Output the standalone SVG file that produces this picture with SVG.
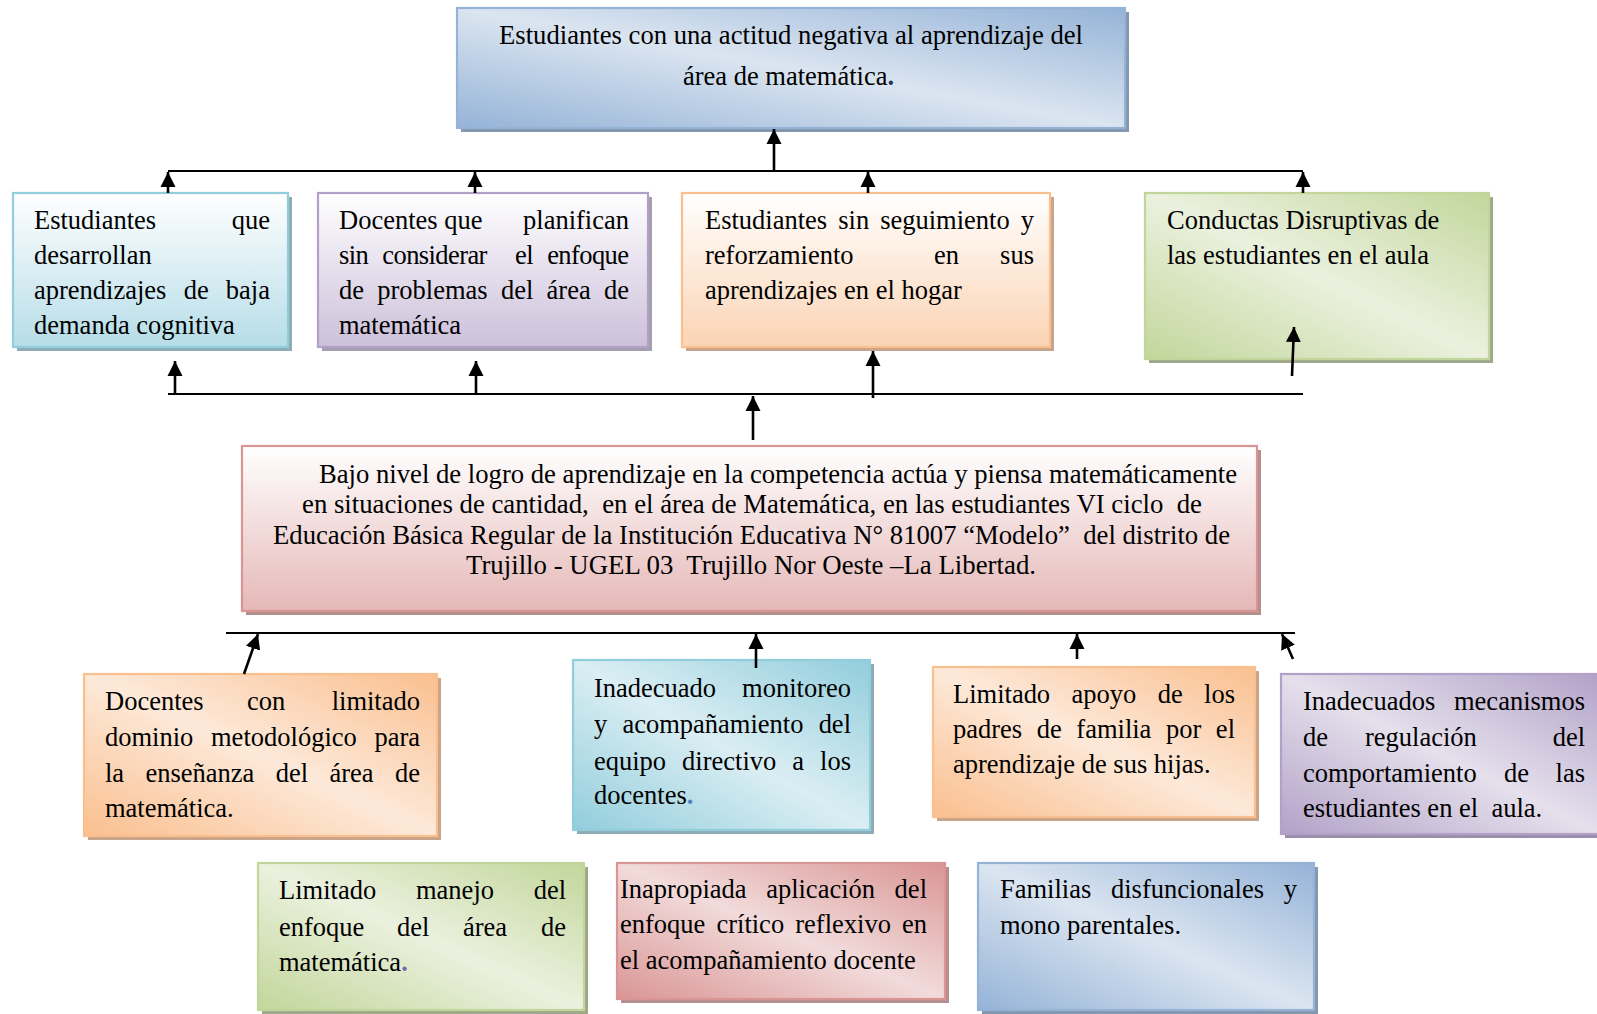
<svg xmlns="http://www.w3.org/2000/svg" width="1597" height="1014" viewBox="0 0 1597 1014">
<style>
.t{font-family:"Liberation Serif","Times New Roman",serif;font-size:26.5px;fill:#000;white-space:pre}
.e{text-anchor:end}
.ln{stroke:#000;stroke-width:2.2;fill:none}
.ar{stroke:#000;stroke-width:2.6;fill:none;marker-end:url(#ah)}
.bx{stroke-width:2.2}
</style>
<defs>
<marker id="ah" viewBox="0 0 10 10" markerWidth="15" markerHeight="16" refX="10" refY="5" orient="auto" markerUnits="userSpaceOnUse">
<path d="M0,0 L10,5 L0,10 z" fill="#000"/>
</marker>
<linearGradient id="gA" x1="0" y1="0" x2="0" y2="1"><stop offset="0" stop-color="#ffffff"/><stop offset="1" stop-color="#b6dde8"/></linearGradient>
<linearGradient id="gB" x1="0" y1="0" x2="0" y2="1"><stop offset="0" stop-color="#ffffff"/><stop offset="1" stop-color="#ccc0da"/></linearGradient>
<linearGradient id="gC" x1="0" y1="0" x2="0" y2="1"><stop offset="0" stop-color="#ffffff"/><stop offset="1" stop-color="#fbd4b4"/></linearGradient>
<linearGradient id="gR" x1="0" y1="0" x2="0" y2="1"><stop offset="0" stop-color="#ffffff"/><stop offset="1" stop-color="#e5b8b7"/></linearGradient>
<linearGradient id="dBlue" x1="1" y1="0" x2="0" y2="1"><stop offset="0" stop-color="#95b3d7"/><stop offset="0.5" stop-color="#dbe5f1"/><stop offset="1" stop-color="#95b3d7"/></linearGradient>
<linearGradient id="dGreen" x1="1" y1="0" x2="0" y2="1"><stop offset="0" stop-color="#c2d69b"/><stop offset="0.5" stop-color="#ebf1de"/><stop offset="1" stop-color="#c2d69b"/></linearGradient>
<linearGradient id="dOrange" x1="1" y1="0" x2="0" y2="1"><stop offset="0" stop-color="#fabf8f"/><stop offset="0.5" stop-color="#fde9d9"/><stop offset="1" stop-color="#fabf8f"/></linearGradient>
<linearGradient id="dCyan" x1="1" y1="0" x2="0" y2="1"><stop offset="0" stop-color="#92cddc"/><stop offset="0.5" stop-color="#daeef3"/><stop offset="1" stop-color="#92cddc"/></linearGradient>
<linearGradient id="dPurple" x1="1" y1="0" x2="0" y2="1"><stop offset="0" stop-color="#b2a1c7"/><stop offset="0.5" stop-color="#e5e0ec"/><stop offset="1" stop-color="#b2a1c7"/></linearGradient>
<linearGradient id="dRed" x1="1" y1="0" x2="0" y2="1"><stop offset="0" stop-color="#d99594"/><stop offset="0.5" stop-color="#f2dbdb"/><stop offset="1" stop-color="#d99594"/></linearGradient>
</defs>
<rect width="1597" height="1014" fill="#ffffff"/>

<g id="top">
<rect x="461" y="12" width="668" height="120" fill="#8497b0"/>
<rect class="bx" x="457" y="8" width="668" height="120" fill="url(#dBlue)" stroke="#95b3d7"/>
<text class="t" x="499" y="44" textLength="584" lengthAdjust="spacingAndGlyphs">Estudiantes con una actitud negativa al aprendizaje del</text>
<text class="t" x="683" y="85">área de matemática<tspan fill="#17365d" font-weight="bold">.</tspan></text>
</g>

<g id="nodeA">
<rect x="17" y="197" width="275" height="154" fill="#8eacb4"/>
<rect class="bx" x="13" y="193" width="275" height="154" fill="url(#gA)" stroke="#92cddc"/>
<text class="t" x="34" y="229">Estudiantes</text>
<text class="t e" x="270" y="229">que</text>
<text class="t" x="34" y="264">desarrollan</text>
<text class="t" x="34" y="299" word-spacing="10.6" textLength="236" lengthAdjust="spacing">aprendizajes de baja</text>
<text class="t" x="34" y="334">demanda cognitiva</text>
</g>

<g id="nodeB">
<rect x="322" y="197" width="330" height="154" fill="#a59db0"/>
<rect class="bx" x="318" y="193" width="330" height="154" fill="url(#gB)" stroke="#b2a1c7"/>
<text class="t" x="339" y="229">Docentes que</text>
<text class="t e" x="629" y="229">planifican</text>
<text class="t" x="339" y="264" word-spacing="8.1" textLength="290" lengthAdjust="spacing">sin considerar  el enfoque</text>
<text class="t" x="339" y="299" word-spacing="6.7" textLength="290" lengthAdjust="spacing">de problemas del área de</text>
<text class="t" x="339" y="334">matemática</text>
</g>

<g id="nodeC">
<rect x="686" y="197" width="368" height="154" fill="#c8a48a"/>
<rect class="bx" x="682" y="193" width="368" height="154" fill="url(#gC)" stroke="#fabf8f"/>
<text class="t" x="705" y="229" word-spacing="4.4" textLength="329" lengthAdjust="spacing">Estudiantes sin seguimiento y</text>
<text class="t" x="705" y="264">reforzamiento</text>
<text class="t" x="934" y="264">en</text>
<text class="t e" x="1034" y="264">sus</text>
<text class="t" x="705" y="299">aprendizajes en el hogar</text>
</g>

<g id="nodeD">
<rect x="1149" y="197" width="344" height="166" fill="#9fa98a"/>
<rect class="bx" x="1145" y="193" width="344" height="166" fill="url(#dGreen)" stroke="#c2d69b"/>
<text class="t" x="1167" y="229">Conductas Disruptivas de</text>
<text class="t" x="1167" y="264">las estudiantes en el aula</text>
</g>

<g id="problem">
<rect x="246" y="450" width="1015" height="165" fill="#b58f8f"/>
<rect class="bx" x="242" y="446" width="1015" height="165" fill="url(#gR)" stroke="#d99594"/>
<text class="t" x="319" y="483" textLength="918" lengthAdjust="spacingAndGlyphs">Bajo nivel de logro de aprendizaje en la competencia actúa y piensa matemáticamente</text>
<text class="t" x="302" y="513" textLength="900" lengthAdjust="spacingAndGlyphs">en situaciones de cantidad,  en el área de Matemática, en las estudiantes VI ciclo  de</text>
<text class="t" x="273" y="544" textLength="957" lengthAdjust="spacingAndGlyphs">Educación Básica Regular de la Institución Educativa N° 81007 “Modelo”  del distrito de</text>
<text class="t" x="466" y="574" textLength="570" lengthAdjust="spacingAndGlyphs">Trujillo - UGEL 03  Trujillo Nor Oeste –La Libertad.</text>
</g>

<g id="nodeE">
<rect x="88" y="678" width="353" height="162" fill="#c8a48a"/>
<rect class="bx" x="84" y="674" width="353" height="162" fill="url(#dOrange)" stroke="#fabf8f"/>
<text class="t" x="105" y="710">Docentes</text>
<text class="t" x="247" y="710">con</text>
<text class="t e" x="420" y="710">limitado</text>
<text class="t" x="105" y="746" word-spacing="11" textLength="315" lengthAdjust="spacing">dominio metodológico para</text>
<text class="t" x="105" y="782" word-spacing="14.8" textLength="315" lengthAdjust="spacing">la enseñanza del área de</text>
<text class="t" x="105" y="817">matemática.</text>
</g>

<g id="nodeF">
<rect x="577" y="664" width="297" height="170" fill="#8eacb4"/>
<rect class="bx" x="573" y="660" width="297" height="170" fill="url(#dCyan)" stroke="#92cddc"/>
<text class="t" x="594" y="697">Inadecuado</text>
<text class="t e" x="851" y="697">monitoreo</text>
<text class="t" x="594" y="733" word-spacing="8.6" textLength="257" lengthAdjust="spacing">y acompañamiento del</text>
<text class="t" x="594" y="770" word-spacing="9.4" textLength="257" lengthAdjust="spacing">equipo directivo a los</text>
<text class="t" x="594" y="804">docentes<tspan fill="#4f81bd" font-weight="bold">.</tspan></text>
</g>

<g id="nodeG">
<rect x="937" y="671" width="322" height="150" fill="#c8a48a"/>
<rect class="bx" x="933" y="667" width="322" height="150" fill="url(#dOrange)" stroke="#fabf8f"/>
<text class="t" x="953" y="703" word-spacing="14.8" textLength="282" lengthAdjust="spacing">Limitado apoyo de los</text>
<text class="t" x="953" y="738" word-spacing="8" textLength="282" lengthAdjust="spacing">padres de familia por el</text>
<text class="t" x="953" y="773">aprendizaje de sus hijas.</text>
</g>

<g id="nodeH">
<rect x="1285" y="678" width="316" height="160" fill="#9a8fab"/>
<rect class="bx" x="1281" y="674" width="320" height="160" fill="url(#dPurple)" stroke="#b2a1c7"/>
<text class="t" x="1303" y="710">Inadecuados</text>
<text class="t e" x="1585" y="710">mecanismos</text>
<text class="t" x="1303" y="746">de</text>
<text class="t" x="1365" y="746">regulación</text>
<text class="t e" x="1585" y="746">del</text>
<text class="t" x="1303" y="782">comportamiento</text>
<text class="t" x="1504" y="782">de</text>
<text class="t e" x="1585" y="782">las</text>
<text class="t" x="1303" y="817">estudiantes en el  aula.</text>
</g>

<g id="nodeI">
<rect x="262" y="867" width="326" height="147" fill="#9fa98a"/>
<rect class="bx" x="258" y="863" width="326" height="147" fill="url(#dGreen)" stroke="#c2d69b"/>
<text class="t" x="279" y="899">Limitado</text>
<text class="t" x="416" y="899">manejo</text>
<text class="t e" x="566" y="899">del</text>
<text class="t" x="279" y="936">enfoque</text>
<text class="t" x="397" y="936">del</text>
<text class="t" x="463" y="936">área</text>
<text class="t e" x="566" y="936">de</text>
<text class="t" x="279" y="971">matemática<tspan fill="#8064a2" font-weight="bold">.</tspan></text>
</g>

<g id="nodeJ">
<rect x="621" y="867" width="328" height="136" fill="#b58f8f"/>
<rect class="bx" x="617" y="863" width="328" height="136" fill="url(#dRed)" stroke="#d99594"/>
<text class="t" x="620" y="898" word-spacing="13" textLength="307" lengthAdjust="spacing">Inapropiada aplicación del</text>
<text class="t" x="620" y="933" word-spacing="4.5" textLength="307" lengthAdjust="spacing">enfoque crítico reflexivo en</text>
<text class="t" x="620" y="969">el acompañamiento docente</text>
</g>

<g id="nodeK">
<rect x="982" y="867" width="336" height="147" fill="#8497b0"/>
<rect class="bx" x="978" y="863" width="336" height="147" fill="url(#dBlue)" stroke="#95b3d7"/>
<text class="t" x="1000" y="898" word-spacing="13.2" textLength="297" lengthAdjust="spacing">Familias disfuncionales y</text>
<text class="t" x="1000" y="934">mono parentales.</text>
</g>

<g id="connectors">
<line class="ln" x1="168" y1="171" x2="1303" y2="171"/>
<line class="ln" x1="168" y1="394" x2="1303" y2="394"/>
<line class="ln" x1="226" y1="633" x2="1295" y2="633"/>
<line class="ar" x1="774" y1="171" x2="774" y2="129"/>
<line class="ar" x1="168" y1="193" x2="168" y2="172"/>
<line class="ar" x1="475" y1="193" x2="475" y2="172"/>
<line class="ar" x1="868" y1="193" x2="868" y2="172"/>
<line class="ar" x1="1303" y1="193" x2="1303" y2="172"/>
<line class="ar" x1="175" y1="394" x2="175" y2="361"/>
<line class="ar" x1="476" y1="394" x2="476" y2="361"/>
<line class="ar" x1="873" y1="398" x2="873" y2="351"/>
<line class="ar" x1="1292" y1="376" x2="1294" y2="327"/>
<line class="ar" x1="753" y1="440" x2="753" y2="396"/>
<line class="ar" x1="244" y1="674" x2="258" y2="634"/>
<line class="ar" x1="756" y1="668" x2="756" y2="634"/>
<line class="ar" x1="1077" y1="659" x2="1077" y2="634"/>
<line class="ar" x1="1293" y1="659" x2="1282" y2="634"/>
</g>
</svg>
